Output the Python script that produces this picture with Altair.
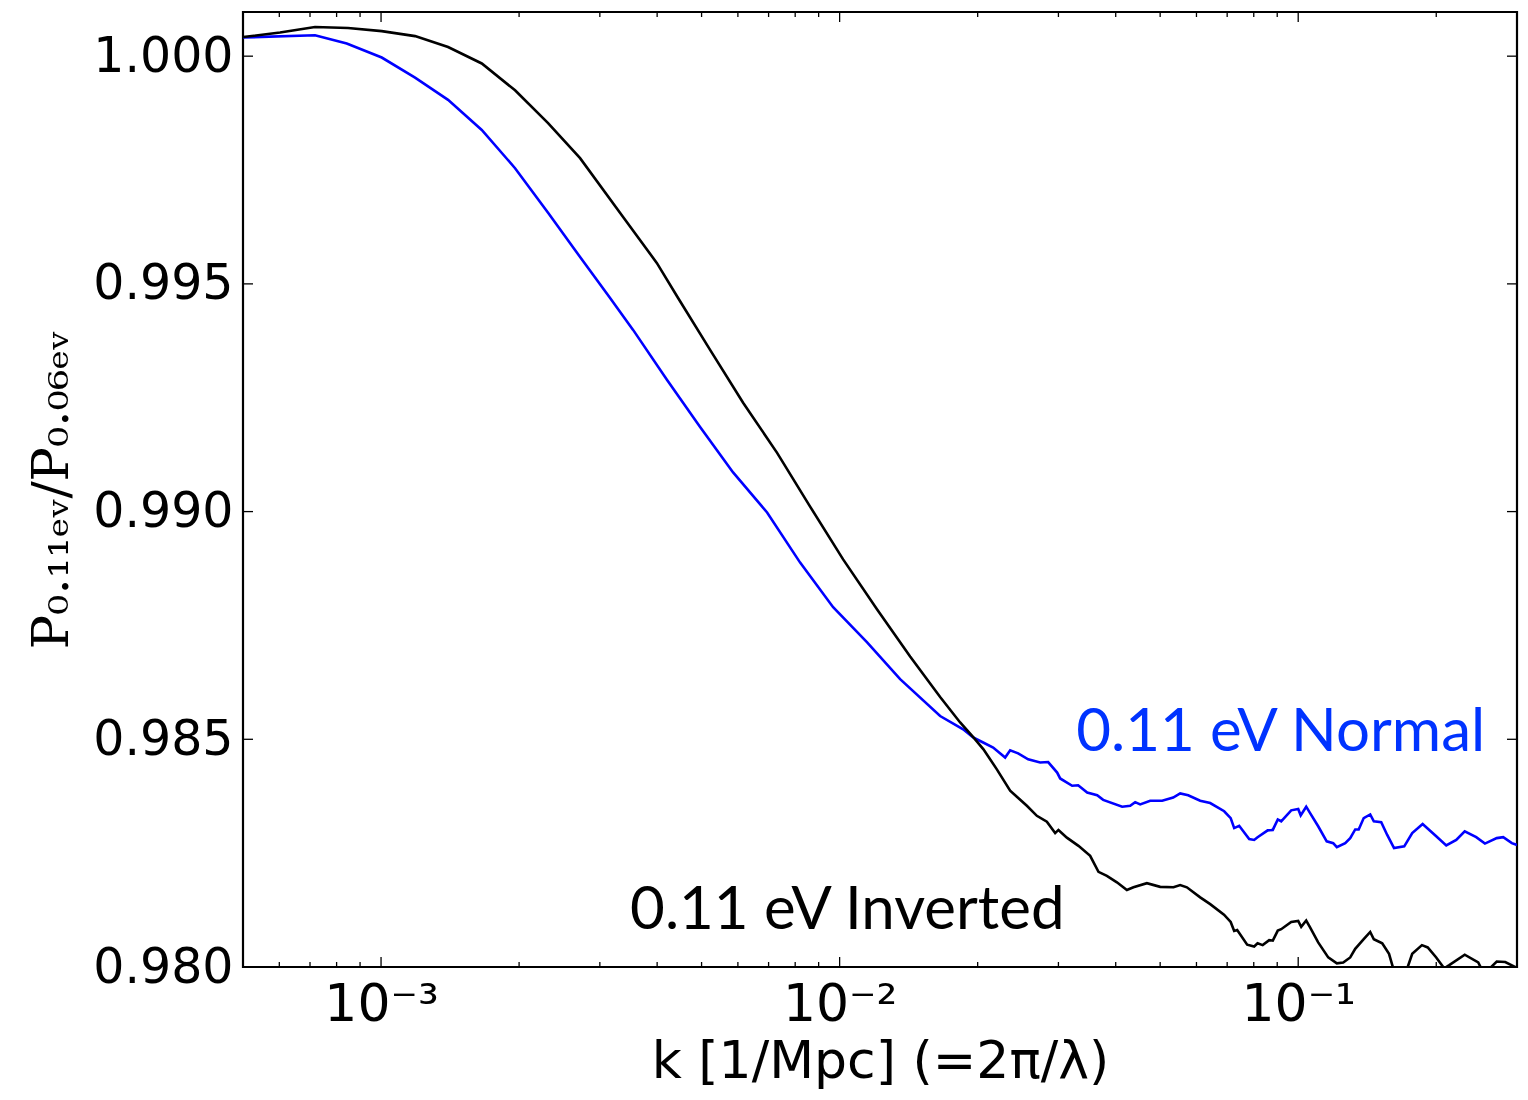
import altair as alt
import pandas as pd

# ---- data ----
k_normal = [0.0005, 0.0007178, 0.0008418, 0.0010035, 0.0011862, 0.0014, 0.0016582, 0.00196, 0.0023133, 0.0027166,
            0.0031583, 0.0035451, 0.0042051, 0.0049631, 0.0058576, 0.006948, 0.0082013, 0.0096792, 0.011481, 0.01355,
            0.016565, 0.018593, 0.019551, 0.020557, 0.021617, 0.022959, 0.023543, 0.024508, 0.025771, 0.027371,
            0.028493, 0.029811, 0.030264, 0.032144, 0.033127, 0.034659, 0.036444, 0.03756, 0.041318, 0.043012,
            0.044105, 0.045226, 0.047555, 0.05051, 0.053379, 0.055289, 0.057557, 0.061132, 0.064281, 0.068957,
            0.071245, 0.072508, 0.074352, 0.078181, 0.080168, 0.081549, 0.085794, 0.088019, 0.090256, 0.091811,
            0.096548, 0.1, 0.10126, 0.1041, 0.106, 0.11055, 0.11539, 0.11922, 0.12141, 0.12663,
            0.12984, 0.13314, 0.1355, 0.13895, 0.14356, 0.14618, 0.15172, 0.15636, 0.16179, 0.1703,
            0.17727, 0.18678, 0.19998, 0.21029, 0.22112, 0.23075, 0.24446, 0.25539, 0.27097, 0.27996,
            0.29233, 0.3]
ratio_normal = [1.00041, 1.00046, 1.00028, 0.99997, 0.99953, 0.99904, 0.99838, 0.99754, 0.99656, 0.99559,
                0.99469, 0.99399, 0.99289, 0.99186, 0.99086, 0.98998, 0.98888, 0.98790, 0.98713, 0.98632,
                0.98551, 0.98522, 0.98504, 0.98493, 0.98482, 0.98460, 0.98476, 0.98469, 0.98456, 0.98449,
                0.98450, 0.98427, 0.98414, 0.98398, 0.98399, 0.98383, 0.98377, 0.98367, 0.98352, 0.98354,
                0.98362, 0.98357, 0.98365, 0.98365, 0.98372, 0.98381, 0.98377, 0.98365, 0.98360, 0.98342,
                0.98327, 0.98305, 0.98310, 0.98281, 0.98279, 0.98285, 0.98300, 0.98301, 0.98324, 0.98320,
                0.98344, 0.98347, 0.98333, 0.98352, 0.98339, 0.98309, 0.98276, 0.98272, 0.98263, 0.98272,
                0.98283, 0.98302, 0.98302, 0.98327, 0.98335, 0.98320, 0.98318, 0.98290, 0.98261, 0.98265,
                0.98294, 0.98314, 0.98287, 0.98267, 0.98279, 0.98298, 0.98285, 0.98271, 0.98283, 0.98285,
                0.98272, 0.98268]

k_inverted = [0.0005, 0.00060217, 0.0007178, 0.0008473, 0.0010035, 0.0011862, 0.0014, 0.0016582, 0.00196, 0.0023133,
              0.0027166, 0.0033715, 0.003993, 0.0044438, 0.0052187, 0.0061592, 0.0073058, 0.0086226, 0.010177, 0.012073,
              0.014248, 0.016565, 0.018316, 0.01958, 0.020589, 0.022023, 0.023543, 0.024349, 0.025603, 0.026921,
              0.028308, 0.029513, 0.030006, 0.031299, 0.033177, 0.035185, 0.036683, 0.038262, 0.040237, 0.042306,
              0.043732, 0.046774, 0.050006, 0.05346, 0.055289, 0.057182, 0.061132, 0.064281, 0.068889, 0.071245,
              0.072508, 0.073609, 0.0774, 0.080168, 0.081549, 0.083672, 0.086444, 0.088019, 0.090256, 0.091811,
              0.096548, 0.1, 0.10152, 0.1041, 0.106, 0.11055, 0.11627, 0.12141, 0.12536, 0.12984,
              0.13314, 0.13895, 0.14356, 0.14618, 0.15248, 0.15778, 0.16114, 0.16691, 0.17287, 0.17727,
              0.18612, 0.19163, 0.19998, 0.20817, 0.21348, 0.23075, 0.24692, 0.25068, 0.26227, 0.27097,
              0.28279, 0.3]
ratio_inverted = [1.00042, 1.00052, 1.00064, 1.00062, 1.00055, 1.00044, 1.00020, 0.99984, 0.99925, 0.99853,
                  0.99776, 0.99647, 0.99546, 0.99469, 0.99355, 0.99239, 0.99129, 0.99011, 0.98895, 0.98785,
                  0.98682, 0.98593, 0.98537, 0.98504, 0.98478, 0.98434, 0.98387, 0.98374, 0.98354, 0.98332,
                  0.98319, 0.98294, 0.98301, 0.98284, 0.98266, 0.98244, 0.98209, 0.98200, 0.98186, 0.98169,
                  0.98175, 0.98184, 0.98176, 0.98175, 0.98180, 0.98175, 0.98153, 0.98138, 0.98115, 0.98099,
                  0.98079, 0.98081, 0.98049, 0.98045, 0.98052, 0.98048, 0.98059, 0.98058, 0.98080, 0.98083,
                  0.98099, 0.98101, 0.98088, 0.98102, 0.98088, 0.98054, 0.98021, 0.98008, 0.98010, 0.98021,
                  0.98040, 0.98061, 0.98077, 0.98061, 0.98052, 0.98029, 0.97997, 0.97970, 0.97997, 0.98029,
                  0.98048, 0.98043, 0.98021, 0.97997, 0.98004, 0.98027, 0.98010, 0.97997, 0.97998, 0.98012,
                  0.98011, 0.97998]

x_major = [0.001, 0.01, 0.1]
x_labels = ["10⁻³", "10⁻²", "10⁻¹"]
x_minor = [0.0005, 0.0006, 0.0007, 0.0008, 0.0009,
           0.002, 0.003, 0.004, 0.005, 0.006, 0.007, 0.008, 0.009,
           0.02, 0.03, 0.04, 0.05, 0.06, 0.07, 0.08, 0.09,
           0.2]
y_ticks = [0.980, 0.985, 0.990, 0.995, 1.000]

label_text = ["0.11 eV Normal", "0.11 eV Inverted"]
label_k = [0.2557, 0.003492]
label_ratio = [0.98474, 0.98083]
label_color = ["#0033ff", "#000000"]

W, H = 1274, 955
xscale = alt.Scale(type="log", domain=[0.0005, 0.3], nice=False)
yscale = alt.Scale(domain=[0.98, 1.00097], nice=False, zero=False)

label_expr = "[" + ",".join("'%s'" % s for s in x_labels) + "][round(log(datum.value)/LN10)+3]"

x_axis = alt.Axis(values=x_major, labelExpr=label_expr, title="k [1/Mpc] (=2π/λ)",
                  labelFontSize=52, labelFont="DejaVu Sans", labelPadding=12,
                  titleFont="DejaVu Sans", titleFontSize=52, titleFontWeight="normal",
                  titlePadding=6, domain=False, ticks=False, grid=False,
                  labelColor="black", titleColor="black")
y_axis = alt.Axis(values=y_ticks, format=".3f", title="P₀.₁₁ₑᵥ/P₀.₀₆ₑᵥ",
                  labelFontSize=49, labelFont="DejaVu Sans", labelPadding=10,
                  titleFont="DejaVu Serif", titleFontSize=51, titleFontWeight="normal",
                  titlePadding=14, domain=False, ticks=False, grid=False,
                  labelColor="black", titleColor="black")

X = alt.X("k:Q", scale=xscale, axis=x_axis)
Y = alt.Y("ratio:Q", scale=yscale, axis=y_axis)

df = pd.concat([
    pd.DataFrame({"k": k_normal, "ratio": ratio_normal, "series": "Normal"}),
    pd.DataFrame({"k": k_inverted, "ratio": ratio_inverted, "series": "Inverted"}),
])

lines = alt.Chart(df).mark_line(strokeWidth=2.6, clip=True).encode(
    x=X, y=Y,
    color=alt.Color("series:N", scale=alt.Scale(domain=["Normal", "Inverted"], range=["#0000ff", "#000000"]),
                    legend=None),
    order=alt.Order("k:Q"),
)

maj = pd.DataFrame({"k": x_major})
mnr = pd.DataFrame({"k": x_minor})
yt = pd.DataFrame({"ratio": y_ticks})

def xticks(data, length, top):
    base = alt.Chart(data).mark_rule(color="black", strokeWidth=1.3)
    if top:
        return base.encode(x=X, y=alt.value(0), y2=alt.value(length))
    return base.encode(x=X, y=alt.value(H), y2=alt.value(H - length))

def yticks(left):
    base = alt.Chart(yt).mark_rule(color="black", strokeWidth=1.3)
    if left:
        return base.encode(y=Y, x=alt.value(0), x2=alt.value(10))
    return base.encode(y=Y, x=alt.value(W), x2=alt.value(W - 10))

labels_df = pd.DataFrame({"label": label_text, "k": label_k, "ratio": label_ratio})

text_normal = alt.Chart(labels_df.iloc[[0]]).mark_text(
    align="right", baseline="alphabetic", font="Lato", fontSize=60, color=label_color[0]
).encode(x=X, y=Y, text="label:N")

text_inv = alt.Chart(labels_df.iloc[[1]]).mark_text(
    align="left", baseline="alphabetic", font="Lato", fontSize=60, color=label_color[1]
).encode(x=X, y=Y, text="label:N")

chart = alt.layer(
    lines,
    xticks(maj, 10, False), xticks(maj, 10, True),
    xticks(mnr, 5, False), xticks(mnr, 5, True),
    yticks(True), yticks(False),
    text_normal, text_inv,
).properties(
    width=W, height=H,
    background="white",
    autosize=alt.AutoSizeParams(type="none"),
    padding={"left": 235, "top": 4, "right": 3, "bottom": 125},
).configure_view(stroke="black", strokeWidth=2.2)

chart.save("out.html", embed_options={"renderer": "svg", "actions": False})
